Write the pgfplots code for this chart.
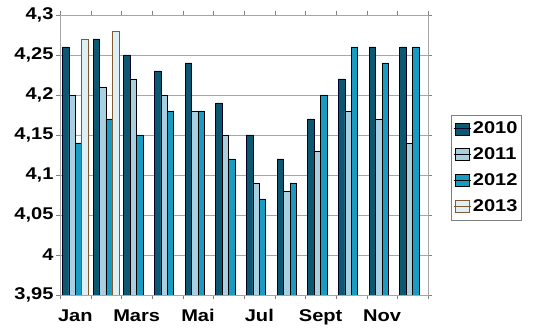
\documentclass[border=0pt]{standalone}
\usepackage{fontspec}
\setmainfont{Liberation Sans}[FakeStretch=1.18]
\usepackage{pgfplots}
\pgfplotsset{compat=1.18}
\definecolor{c2010}{HTML}{0B5870}
\definecolor{c2011}{HTML}{A9CFE0}
\definecolor{c2012}{HTML}{1A9CC2}
\definecolor{c2013}{HTML}{DDF0F8}
\begin{document}
\begin{tikzpicture}
\begin{axis}[
  scale only axis, width=368pt, height=280pt,
  ybar=0pt, bar width=0.21,
  xmin=-0.5, xmax=11.5, ymin=3.95, ymax=4.3,
  xtick={0,2,4,6,8,10}, xticklabels={Jan,Mars,Mai,Jul,Sept,Nov},
  major x tick style={draw=none},
  minor xtick={-0.5,0.5,1.5,2.5,3.5,4.5,5.5,6.5,7.5,8.5,9.5,10.5,11.5},
  minor x tick style={draw=gray},
  tick align=outside, major tick length=4pt, minor tick length=4pt,
  ytick={3.95,4,4.05,4.1,4.15,4.2,4.25,4.3},
  ymajorgrids, grid style={gray!70, line width=0.6pt},
  axis line style={gray!70, line width=0.8pt},
  ytick style={draw=gray},
  /pgf/number format/use comma,
  /pgf/number format/assume math mode=true,
  tick label style={font=\bfseries\fontsize{17}{19}\selectfont},
  yticklabel style={xshift=1pt},
  xticklabel style={yshift=-7pt},
  legend style={at={(1.0625,0.455)}, anchor=west, draw=gray, line width=0.6pt,
     font=\bfseries\fontsize{17}{20}\selectfont, inner xsep=2pt, inner ysep=5pt, row sep=8.5pt},
  legend cell align=left,
  legend image code/.code={\draw[#1,line width=0.4pt] (2pt,-6pt) rectangle (16pt,6pt);
     \path (0pt,0pt) -- (17pt,0pt);},
]
\addplot[fill=c2010, draw=black!85!blue, line width=0.6pt] coordinates {
 (0,4.26) (1,4.27) (2,4.25) (3,4.23) (4,4.24) (5,4.19) (6,4.15) (7,4.12) (8,4.17) (9,4.22) (10,4.26) (11,4.26)};
\addplot[fill=c2011, draw=black, line width=0.6pt] coordinates {
 (0,4.20) (1,4.21) (2,4.22) (3,4.20) (4,4.18) (5,4.15) (6,4.09) (7,4.08) (8,4.13) (9,4.18) (10,4.17) (11,4.14)};
\addplot[fill=c2012, draw=black, line width=0.6pt] coordinates {
 (0,4.14) (1,4.17) (2,4.15) (3,4.18) (4,4.18) (5,4.12) (6,4.07) (7,4.09) (8,4.20) (9,4.26) (10,4.24) (11,4.26)};
\addplot[fill=c2013, draw=brown!70!black, line width=0.6pt] coordinates {
 (0,4.27) (1,4.28)};
\legend{2010,2011,2012,2013}
\end{axis}
\pgfresetboundingbox
\useasboundingbox ([shift={(-60pt,-38pt)}]current axis.south west) rectangle ([shift={(107pt,15pt)}]current axis.north east);
\end{tikzpicture}
\end{document}
